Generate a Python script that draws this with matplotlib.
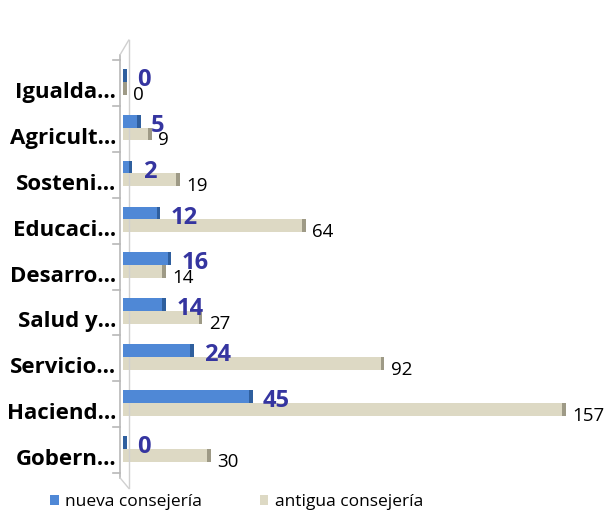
import matplotlib
matplotlib.use("Agg")
import matplotlib.pyplot as plt
from matplotlib.lines import Line2D
from matplotlib.patches import Patch
import numpy as np

categories = ["Igualda…", "Agricult…", "Sosteni…", "Educaci…", "Desarro…",
              "Salud y…", "Servicio…", "Haciend…", "Gobern…"]
nueva = [0, 5, 2, 12, 16, 14, 24, 45, 0]
antigua = [0, 9, 19, 64, 14, 27, 92, 157, 30]
series_names = ["nueva consejería", "antigua consejería"]

blue = "#4F88D6"
blue_dark = "#2F5F9E"
beige = "#DDD9C4"
beige_dark = "#9E9A86"
label_blue = "#3535A0"

plt.rcParams['font.family'] = ['Open Sans', 'DejaVu Sans']

fig = plt.figure(figsize=(6.10, 5.13), dpi=100)
ax = fig.add_axes([123/610, 1-480/513, 477/610, 413/513])

y = np.arange(len(categories))
h = 0.28
yb = y - 0.32
ya = y - 0.04

ax.barh(yb, nueva, height=h, color=blue, edgecolor="none", zorder=3)
ax.barh(ya, antigua, height=h, color=beige, edgecolor="none", zorder=2)
# end caps for 3D look
cap = 1.3
for yy, v in zip(yb, nueva):
    ax.barh(yy, cap, left=v, height=h, color=blue_dark, edgecolor="none", zorder=4)
for yy, v in zip(ya, antigua):
    ax.barh(yy, cap, left=v, height=h, color=beige_dark, edgecolor="none", zorder=4)

for yy, v in zip(yb, nueva):
    ax.text(v + 5.0, yy + 0.1, str(v), color=label_blue, fontsize=17,
            fontweight="bold", va="center", ha="left", zorder=5)
for yy, v in zip(ya, antigua):
    ax.text(v + 3.6, yy + 0.14, str(v), color="black", fontsize=13.5,
            va="center", ha="left", zorder=5)

ax.set_xlim(0, 170.4)
ax.set_ylim(len(categories) - 0.5, -0.5)
ax.set_yticks(y)
ax.set_yticklabels(categories, fontsize=16, fontweight="bold")
ax.tick_params(axis="y", length=0, pad=5)
ax.set_xticks([])
for s in ax.spines.values():
    s.set_visible(False)

# 3D wall decoration
tr = ax.transAxes
wall_col = "#B8B8B8"
ax.add_line(Line2D([-0.006, -0.006], [0.005, 1.03], transform=tr, color=wall_col, lw=1.2, clip_on=False))
ax.add_line(Line2D([0.012, 0.012], [-0.02, 1.065], transform=tr, color="#D0D0D0", lw=1.0, clip_on=False))
ax.add_line(Line2D([-0.006, 0.012], [1.03, 1.065], transform=tr, color="#D0D0D0", lw=1.0, clip_on=False))
ax.add_line(Line2D([-0.006, 0.012], [0.005, -0.02], transform=tr, color="#D0D0D0", lw=1.0, clip_on=False))
for b in np.arange(len(categories) + 1):
    yy = (b - 0.5 - 0.15)
    frac = 1 - (yy + 0.5) / len(categories)
    ax.add_line(Line2D([-0.02, -0.006], [frac, frac], transform=tr, color=wall_col, lw=1.2, clip_on=False))

handles = [Patch(facecolor=blue, edgecolor="none"), Patch(facecolor=beige, edgecolor="none")]
fig.legend(handles, series_names, loc="center", bbox_to_anchor=(0.388, 1-502/513),
           ncol=2, frameon=False, fontsize=12.5, handlelength=0.5, handleheight=0.5,
           columnspacing=3.3, handletextpad=0.4)

fig.savefig("out.png", dpi=100)
